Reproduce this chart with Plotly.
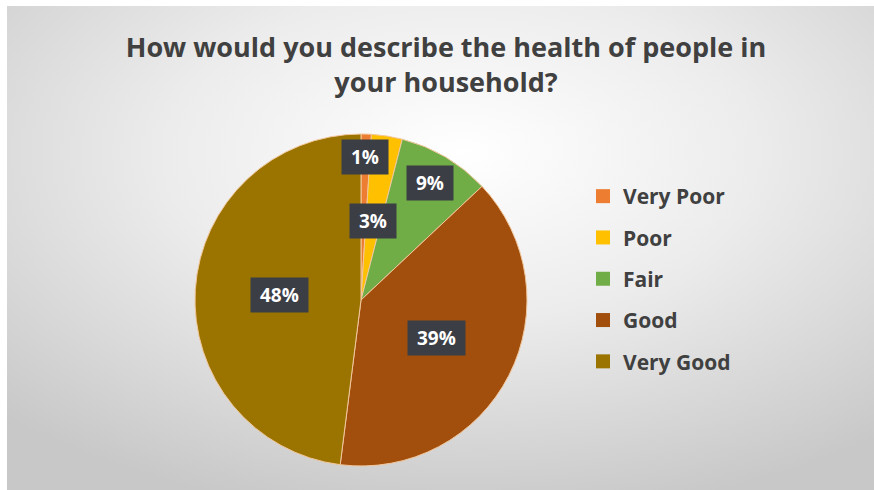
import math, base64
import plotly.graph_objects as go

categories = ["Very Poor", "Poor", "Fair", "Good", "Very Good"]
values = [1, 3, 9, 39, 48]
colors = ["#ED7D31", "#FFC000", "#70AD47", "#A24F0E", "#9B7400"]
label_radius = [0.86, 0.48, 0.82, 0.51, 0.49]
title_text = "How would you describe the health of people in<br>your household?"

W, H = 874, 490
# pie placement (pixels)
PCX, PCY, PR = 361, 300, 166
dom_x = [(PCX - PR) / W, (PCX + PR) / W]
dom_y = [1 - (PCY + PR) / H, 1 - (PCY - PR) / H]

fig = go.Figure()
fig.add_trace(go.Pie(
    labels=categories, values=values, sort=False, direction="clockwise",
    rotation=0, marker=dict(colors=colors, line=dict(color="#f2c79c", width=1)),
    textinfo="none", hoverinfo="label+percent", showlegend=False,
    domain=dict(x=dom_x, y=dom_y),
))

# legend entries
for i, (c, col) in enumerate(zip(categories, colors)):
    fig.add_trace(go.Scatter(
        x=[None], y=[None], mode="markers", name=c, legendgroup=f"g{i}",
        marker=dict(symbol="square", size=14, color=col),
        showlegend=True, hoverinfo="skip",
    ))

# data labels (white text on dark box), positioned from the cumulative values
total = sum(values)
cum = 0
for v, rf in zip(values, label_radius):
    mid = (cum + v / 2) / total * 2 * math.pi
    cum += v
    px = PCX + rf * PR * math.sin(mid)
    py = PCY - rf * PR * math.cos(mid)
    fig.add_annotation(
        x=px / W, y=1 - py / H, xref="paper", yref="paper",
        xanchor="center", yanchor="middle",
        text=f"&nbsp;<b>{round(v / total * 100)}%</b>&nbsp;", showarrow=False,
        font=dict(family="Open Sans", size=19, color="white"),
        bgcolor="#3b3e45", borderpad=4,
    )

svg = f'''<svg xmlns="http://www.w3.org/2000/svg" width="{W}" height="{H}" preserveAspectRatio="none">
<defs><radialGradient id="g" cx="52%" cy="30%" r="75%" fx="52%" fy="30%">
<stop offset="0" stop-color="#ffffff"/><stop offset="0.45" stop-color="#ececec"/>
<stop offset="1" stop-color="#c8c8c8"/></radialGradient></defs>
<rect width="{W}" height="{H}" fill="url(#g)"/></svg>'''
src = "data:image/svg+xml;base64," + base64.b64encode(svg.encode()).decode()

fig.update_layout(
    width=W, height=H, margin=dict(l=0, r=0, t=0, b=0),
    paper_bgcolor="#cacaca", plot_bgcolor="rgba(0,0,0,0)",
    xaxis=dict(visible=False), yaxis=dict(visible=False),
    images=[dict(source=src, xref="paper", yref="paper", x=7 / W, y=1 - 6 / H,
                 sizex=1.0, sizey=1.0, xanchor="left", yanchor="top",
                 sizing="stretch", layer="below")],
    shapes=[
        dict(type="rect", xref="paper", yref="paper", x0=0, x1=7 / W, y0=0, y1=1,
             fillcolor="white", line=dict(width=0), layer="below"),
        dict(type="rect", xref="paper", yref="paper", x0=0, x1=1, y0=1 - 6 / H, y1=1,
             fillcolor="white", line=dict(width=0), layer="below"),
    ],
    title=dict(text=title_text, x=446 / W, xanchor="center", y=1 - 57 / H, yanchor="middle",
               font=dict(family="Open Sans", size=27, color="#404040", weight="bold")),
    legend=dict(x=583 / W, y=1 - 176 / H, xanchor="left", yanchor="top",
                font=dict(family="Open Sans", size=21, color="#404040", weight="bold"),
                tracegroupgap=11, bgcolor="rgba(0,0,0,0)", itemclick=False),
)
fig.write_html("out.html", config={"displayModeBar": False},
               post_script="document.body.style.margin='0';document.body.style.overflow='hidden';"
                           "document.body.style.background='#cacaca';")
